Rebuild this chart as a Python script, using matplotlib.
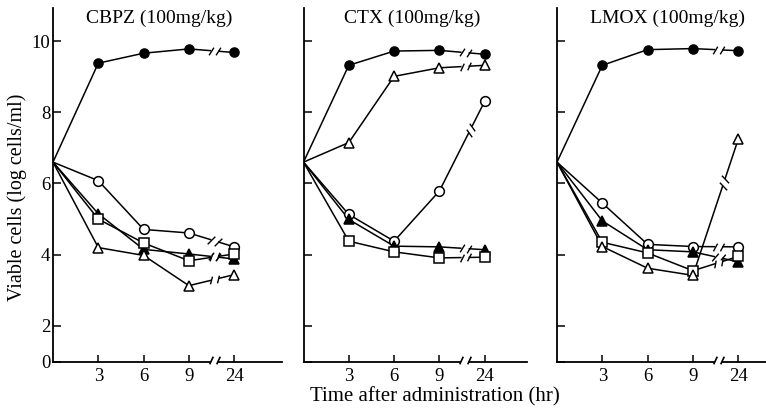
import matplotlib.pyplot as plt
import numpy as np

plt.rcParams['font.family'] = ['Liberation Serif', 'DejaVu Serif']

# sampling times (hr); the axis is broken between 9 and 24
hours = [0, 3, 6, 9, 24]
hour_labels = ['3', '6', '9', '24']
log_ticks = [0, 2, 4, 6, 8, 10]
start_log = 6.6   # inoculum at time 0

titles = ['CBPZ (100mg/kg)', 'CTX (100mg/kg)', 'LMOX (100mg/kg)']

# log viable cells at 3, 6, 9, 24 hr
cbpz_filled_circle = [9.38, 9.66, 9.78, 9.68]
cbpz_open_circle = [6.08, 4.71, 4.61, 4.22]
cbpz_filled_triangle = [5.15, 4.15, 4.02, 3.88]
cbpz_open_square = [5.0, 4.33, 3.83, 4.02]
cbpz_open_triangle = [4.2, 3.98, 3.13, 3.44]

ctx_filled_circle = [9.32, 9.72, 9.74, 9.63]
ctx_open_triangle = [7.15, 9.01, 9.25, 9.32]
ctx_open_circle = [5.13, 4.38, 5.79, 8.31]
ctx_filled_triangle = [4.99, 4.24, 4.22, 4.14]
ctx_open_square = [4.38, 4.08, 3.91, 3.93]

lmox_filled_circle = [9.32, 9.76, 9.79, 9.73]
lmox_open_circle = [5.45, 4.29, 4.23, 4.22]
lmox_filled_triangle = [4.95, 4.14, 4.08, 3.8]
lmox_open_square = [4.35, 4.05, 3.55, 3.95]
lmox_open_triangle = [4.23, 3.62, 3.42, 7.24]

styles = {
    'fc': ('o', 'black', 6.5),
    'oc': ('o', 'white', 7),
    'ft': ('^', 'black', 7),
    'os': ('s', 'white', 6.5),
    'ot': ('^', 'white', 7.5),
}

panels = [
    [('fc', cbpz_filled_circle), ('oc', cbpz_open_circle), ('ft', cbpz_filled_triangle),
     ('os', cbpz_open_square), ('ot', cbpz_open_triangle)],
    [('fc', ctx_filled_circle), ('ot', ctx_open_triangle), ('oc', ctx_open_circle),
     ('ft', ctx_filled_triangle), ('os', ctx_open_square)],
    [('fc', lmox_filled_circle), ('oc', lmox_open_circle), ('ft', lmox_filled_triangle),
     ('os', lmox_open_square), ('ot', lmox_open_triangle)],
]


def xpos(h):
    # 24 hr drawn one step (3 units) after 9 hr
    h = np.asarray(h, float)
    return np.where(h > 9, 12.0, h)


def ypos(v):
    # 0 sits one unit under 2 (broken y axis)
    v = np.asarray(v, float)
    return np.where(v < 2, v / 2 + 1, v)


def slash_marker(angle):
    a = np.deg2rad(angle)
    return [(-np.cos(a), -np.sin(a)), (np.cos(a), np.sin(a))]


def line_break(ax, p0, p1, xc, gap_px=3.5):
    # "//" mark cut into the segment p0-p1 near x = xc
    t = ax.transData
    d0, d1 = t.transform(p0), t.transform(p1)
    frac = (xc - p0[0]) / (p1[0] - p0[0])
    dc = d0 + frac * (d1 - d0)
    u = (d1 - d0) / np.hypot(*(d1 - d0))
    pts = t.inverted().transform([dc - gap_px * u, dc + gap_px * u])
    ax.plot(pts[:, 0], pts[:, 1], color='white', lw=2.6, zorder=3, solid_capstyle='butt')
    ang = np.degrees(np.arctan2(u[1], u[0])) + 62
    ax.plot(pts[:, 0], pts[:, 1], ls='none', marker=slash_marker(ang), ms=5.5,
            mec='black', mew=1.0, zorder=3)


W, H = 766, 411
fig = plt.figure(figsize=(W / 100, H / 100), dpi=100)

bottom_px, top_px = 361.5, 8
px_per_hr = 15.1
px_per_log = 35.6
lefts = [53, 303.5, 557]
rights = [282, 527, 766]
title_x = [159, 412, 667]

brk = 10.7

for i, series in enumerate(panels):
    l, r = lefts[i], rights[i]
    ax = fig.add_axes([l / W, (H - bottom_px) / H, (r - l) / W, (bottom_px - top_px) / H])
    ax.set_xlim(0, (r - l) / px_per_hr)
    ax.set_ylim(1, 1 + (bottom_px - top_px) / px_per_log)
    for s in ['top', 'right']:
        ax.spines[s].set_visible(False)
    for s in ['left', 'bottom']:
        ax.spines[s].set_linewidth(1.3)

    for key, vals in series:
        m, fc, ms = styles[key]
        xs = xpos(hours)
        ys = np.concatenate([[start_log], vals])
        ax.plot(xs, ys, color='black', lw=1.1, zorder=2)
        ax.plot(xs[1:], ys[1:], ls='none', marker=m, ms=ms, mfc=fc,
                mec='black', mew=1.1, zorder=4)
        steep = abs(ys[4] - ys[3]) > 1.5
        line_break(ax, (xs[3], ys[3]), (xs[4], ys[4]), brk + (0.35 if steep else 0))

    # axis break
    ax.plot([brk - 0.25, brk + 0.25], [1, 1], color='white', lw=3, zorder=5,
            clip_on=False, solid_capstyle='butt')
    ax.plot([brk - 0.25, brk + 0.25], [1.05, 1.05], ls='none', marker=slash_marker(65),
            ms=5.5, mec='black', mew=1.2, zorder=6, clip_on=False)

    ax.set_xticks(xpos([3, 6, 9, 24]))
    ax.set_xticklabels(hour_labels)
    ax.set_yticks(ypos(log_ticks))
    if i == 0:
        ax.set_yticklabels([str(t) for t in log_ticks])
    else:
        ax.set_yticklabels([])
    ax.tick_params(axis='x', direction='in', length=5, width=1.1, pad=5, labelsize=13.5)
    ax.tick_params(axis='y', direction='in', length=6, width=1.1, pad=2, labelsize=13.5)

    fig.text(title_x[i] / W, 1 - 18 / H, titles[i], ha='center', va='center', fontsize=14)

fig.text(17 / W, 1 - 197 / H, 'Viable cells (log cells/ml)', rotation=90,
         ha='center', va='center', fontsize=14.5)
fig.text(435 / W, 1 - 397 / H, 'Time after administration (hr)',
         ha='center', va='center', fontsize=15)

fig.savefig('out.png', dpi=100)
